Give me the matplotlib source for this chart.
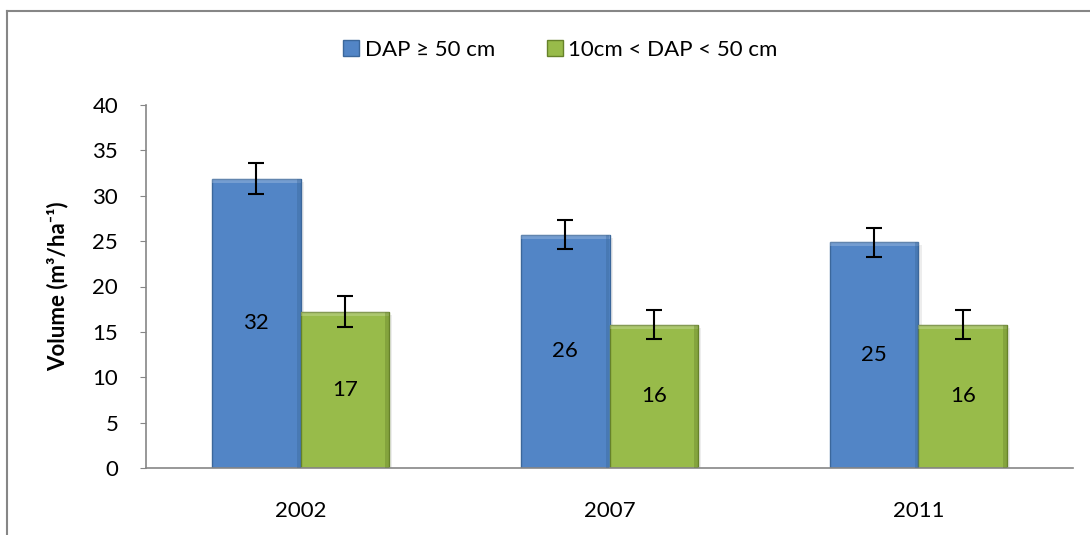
import matplotlib
matplotlib.use('Agg')
import matplotlib.pyplot as plt
import matplotlib.patches as patches
from matplotlib.lines import Line2D
import numpy as np

plt.rcParams['font.family'] = ['Lato', 'DejaVu Sans']

years = ['2002', '2007', '2011']
large = [31.9, 25.7, 24.9]      # DAP >= 50 cm
small = [17.2, 15.8, 15.8]      # 10cm < DAP < 50 cm
large_err = [1.7, 1.6, 1.6]
small_err = [1.7, 1.6, 1.6]
large_lbl = ['32', '26', '25']
small_lbl = ['17', '16', '16']
names = ['DAP \u2265 50 cm', '10cm < DAP < 50 cm']

blue = '#5285c6'
blue_dark = '#3b679b'
green = '#98bb4a'
green_dark = '#66822a'

fig = plt.figure(figsize=(10.9, 5.35), dpi=100)
ax = fig.add_axes([146/1090, 1-468/535, (1073-146)/1090, (468-105)/535])

x = np.arange(len(years))
w = 0.286


def bevel_bars(xs, vals, color, dark):
    for xi, v in zip(xs, vals):
        # shadow
        ax.add_patch(patches.Rectangle((xi - w/2 + 0.01, -0.35), w, v,
                                       facecolor='#000000', alpha=0.07,
                                       edgecolor='none', zorder=1))
        ax.bar(xi, v, width=w, color=color, edgecolor=dark, linewidth=1.0,
               zorder=2)
        # light top bevel
        ax.add_patch(patches.Rectangle((xi - w/2, v - 0.45), w, 0.45,
                                       facecolor='white', alpha=0.2,
                                       edgecolor='none', zorder=3))
        # darker right side
        ax.add_patch(patches.Rectangle((xi + w/2 - 0.012, 0), 0.012, v,
                                       facecolor=dark, alpha=0.4,
                                       edgecolor='none', zorder=3))


bevel_bars(x - w/2, large, blue, blue_dark)
bevel_bars(x + w/2, small, green, green_dark)

ax.errorbar(x - w/2, large, yerr=large_err, fmt='none', ecolor='black',
            elinewidth=1.5, capsize=6, capthick=1.5, zorder=4)
ax.errorbar(x + w/2, small, yerr=small_err, fmt='none', ecolor='black',
            elinewidth=1.5, capsize=6, capthick=1.5, zorder=4)

for xi, v, t in zip(x - w/2, large, large_lbl):
    ax.text(xi, v/2, t, ha='center', va='center', fontsize=16, zorder=5)
for xi, v, t in zip(x + w/2, small, small_lbl):
    ax.text(xi, v/2, t, ha='center', va='center', fontsize=16, zorder=5)

ax.set_xlim(-0.5, 2.5)
ax.set_ylim(0, 40)
ax.set_yticks(range(0, 41, 5))
ax.set_xticks(x)
ax.set_xticklabels(years)
ax.tick_params(axis='x', length=0, labelsize=16, pad=24)
ax.tick_params(axis='y', length=4, labelsize=16, color='#868686', pad=16)
for s in ['top', 'right']:
    ax.spines[s].set_visible(False)
for s in ['left', 'bottom']:
    ax.spines[s].set_color('#868686')
    ax.spines[s].set_linewidth(1.2)

ax.set_ylabel('Volume (m\u00b3/ha\u207b\u00b9)', fontsize=16, fontweight='bold')
ax.yaxis.set_label_coords((68-146)/927, 0.5)

handles = [Line2D([], [], marker='s', linestyle='none', markersize=11,
                  markerfacecolor=blue, markeredgecolor=blue_dark),
           Line2D([], [], marker='s', linestyle='none', markersize=11,
                  markerfacecolor=green, markeredgecolor=green_dark)]
fig.legend(handles, names, loc='center', bbox_to_anchor=(559/1090, 1-50/535),
           ncol=2, frameon=False, fontsize=16, handletextpad=0.1,
           columnspacing=2.2, handlelength=1.0)

# chart frame (partly cut off in the original)
fig.add_artist(Line2D([7/1090, 7/1090], [0, 1-11/535], color='#868686',
                      linewidth=1.5, transform=fig.transFigure))
fig.add_artist(Line2D([7/1090, 1], [1-11/535, 1-11/535], color='#868686',
                      linewidth=1.5, transform=fig.transFigure))

fig.savefig('out.png', dpi=100)
plt.close(fig)
